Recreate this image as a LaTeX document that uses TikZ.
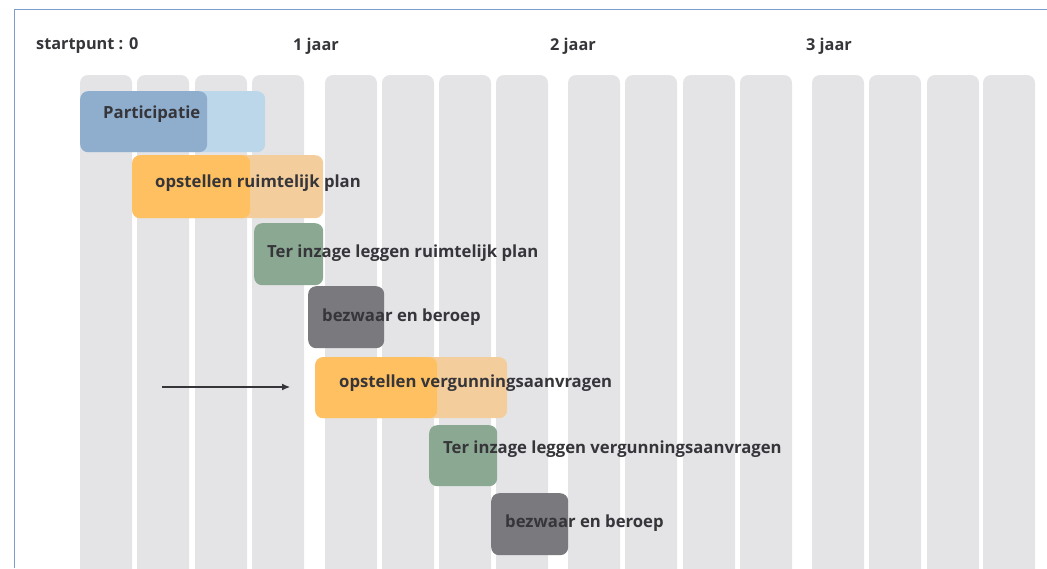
\documentclass[tikz,border=0pt]{standalone}
\usepackage{fontspec}
\setmainfont{Open Sans}
\usetikzlibrary{arrows.meta}
\definecolor{kolomgrijs}{HTML}{E4E4E6}
\definecolor{blauwlicht}{HTML}{BCD6EA}
\definecolor{blauwdonker}{HTML}{8FAECE}
\definecolor{oranjelicht}{HTML}{F3CE9C}
\definecolor{oranje}{HTML}{FEC060}
\definecolor{groen}{HTML}{8BA893}
\definecolor{donkergrijs}{HTML}{7A7A7E}
\definecolor{tekstkleur}{HTML}{35353A}
\definecolor{randblauw}{HTML}{7C9DCF}
\begin{document}
\begin{tikzpicture}[x=1pt,y=-1pt,
    kolom/.style={fill=kolomgrijs,rounded corners=8pt},
    balk/.style={rectangle,rounded corners=8pt,inner sep=0pt,anchor=north west},
    taak/.style={anchor=west,inner sep=0pt,text=tekstkleur,font=\bfseries\fontsize{16.7}{19}\selectfont},
    kop/.style={anchor=west,inner sep=0pt,text=tekstkleur,font=\bfseries\fontsize{16.3}{19}\selectfont}]

    \useasboundingbox (0,0) rectangle (1047,568);
    \clip (0,0) rectangle (1047,568);

    % kolommen
    \fill[kolom] (80,75) rectangle (132,600);
    \fill[kolom] (137,75) rectangle (189,600);
    \fill[kolom] (195,75) rectangle (247,600);
    \fill[kolom] (252,75) rectangle (304,600);
    \fill[kolom] (325,75) rectangle (377,600);
    \fill[kolom] (382,75) rectangle (434,600);
    \fill[kolom] (439,75) rectangle (491,600);
    \fill[kolom] (496,75) rectangle (548,600);
    \fill[kolom] (568,75) rectangle (620,600);
    \fill[kolom] (625,75) rectangle (677,600);
    \fill[kolom] (683,75) rectangle (735,600);
    \fill[kolom] (740,75) rectangle (792,600);
    \fill[kolom] (812,75) rectangle (864,600);
    \fill[kolom] (869,75) rectangle (921,600);
    \fill[kolom] (927,75) rectangle (979,600);
    \fill[kolom] (983,75) rectangle (1035,600);

    \draw[randblauw,line width=1.5pt] (14.5,568) |- (1047,9.5);

    % tijdlijn
    \node[kop] (k0) at (36,46) {startpunt : 0};
    \node[kop] (k1) at (293,46) {1 jaar};
    \node[kop] (k2) at (550,46) {2 jaar};
    \node[kop] (k3) at (806,46) {3 jaar};

    % balken
    \node[balk,fill=blauwlicht,minimum width=185pt,minimum height=61pt] (b1) at (80,91) {};
    \node[balk,fill=blauwdonker,minimum width=127pt,minimum height=61pt] (b1d) at (80,91) {};
    \node[balk,fill=oranjelicht,minimum width=191pt,minimum height=63pt] (b2) at (132,155) {};
    \node[balk,fill=oranje,minimum width=118pt,minimum height=63pt] (b2d) at (132,155) {};
    \node[balk,fill=groen,minimum width=69pt,minimum height=62pt] (b3) at (254,223) {};
    \node[balk,fill=donkergrijs,minimum width=76pt,minimum height=62pt] (b4) at (308,286) {};
    \node[balk,fill=oranjelicht,minimum width=192pt,minimum height=61pt] (b5) at (315,357) {};
    \node[balk,fill=oranje,minimum width=122pt,minimum height=61pt] (b5d) at (315,357) {};
    \node[balk,fill=groen,minimum width=68pt,minimum height=61pt] (b6) at (429,425) {};
    \node[balk,fill=donkergrijs,minimum width=77pt,minimum height=62pt] (b7) at (491,493) {};

    % teksten
    \node[taak] (t1) at (103,114) {Participatie};
    \node[taak] (t2) at (155,183) {opstellen ruimtelijk plan};
    \node[taak] (t3) at (267,253) {Ter inzage leggen ruimtelijk plan};
    \node[taak] (t4) at (322,317) {bezwaar en beroep};
    \node[taak] (t5) at (339,383) {opstellen vergunningsaanvragen};
    \node[taak] (t6) at (443,449) {Ter inzage leggen vergunningsaanvragen};
    \node[taak] (t7) at (505,523) {bezwaar en beroep};

    \coordinate (pijlstart) at (162,387);
    \coordinate (pijleind) at (290,387);
    \draw[-{Latex[length=8pt,width=7pt]},line width=1.1pt,tekstkleur] (pijlstart) -- (pijleind);
\end{tikzpicture}
\end{document}
